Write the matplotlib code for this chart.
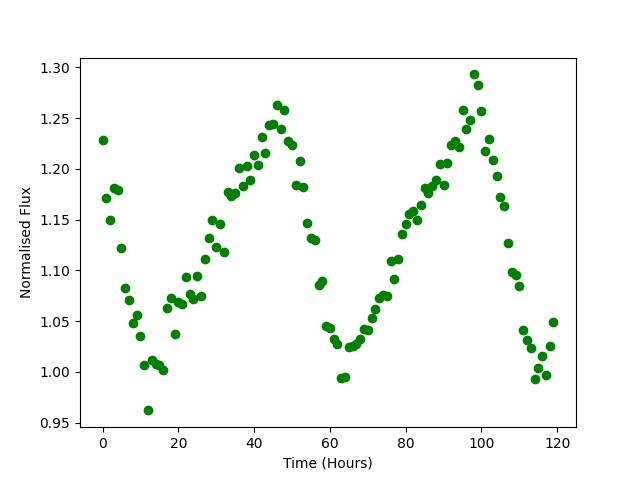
import numpy as np
import matplotlib
matplotlib.use('Agg')
import matplotlib.pyplot as plt

# hourly samples
time_hours = np.arange(120)

flux = [1.228, 1.171, 1.150, 1.181, 1.179, 1.122, 1.083, 1.071, 1.048, 1.056,
        1.035, 1.007, 0.962, 1.012, 1.008, 1.007, 1.002, 1.063, 1.073, 1.037,
        1.069, 1.067, 1.093, 1.077, 1.072, 1.094, 1.075, 1.111, 1.132, 1.150,
        1.123, 1.146, 1.118, 1.177, 1.173, 1.176, 1.201, 1.183, 1.203, 1.189,
        1.214, 1.204, 1.231, 1.216, 1.243, 1.244, 1.263, 1.239, 1.258, 1.227,
        1.223, 1.184, 1.208, 1.182, 1.147, 1.132, 1.130, 1.086, 1.089, 1.045,
        1.043, 1.032, 1.027, 0.994, 0.995, 1.024, 1.025, 1.027, 1.032, 1.042,
        1.041, 1.053, 1.062, 1.073, 1.076, 1.075, 1.109, 1.091, 1.111, 1.136,
        1.146, 1.155, 1.158, 1.150, 1.164, 1.181, 1.176, 1.183, 1.189, 1.205,
        1.184, 1.206, 1.223, 1.227, 1.221, 1.258, 1.239, 1.248, 1.293, 1.283,
        1.257, 1.218, 1.229, 1.209, 1.193, 1.172, 1.163, 1.127, 1.098, 1.095,
        1.085, 1.041, 1.031, 1.023, 0.993, 1.004, 1.016, 0.997, 1.025, 1.049]

plt.figure(figsize=(6.4, 4.8), dpi=100)
plt.plot(time_hours, flux, 'go')
plt.xlabel('Time (Hours)')
plt.ylabel('Normalised Flux')
plt.savefig('out.png')
